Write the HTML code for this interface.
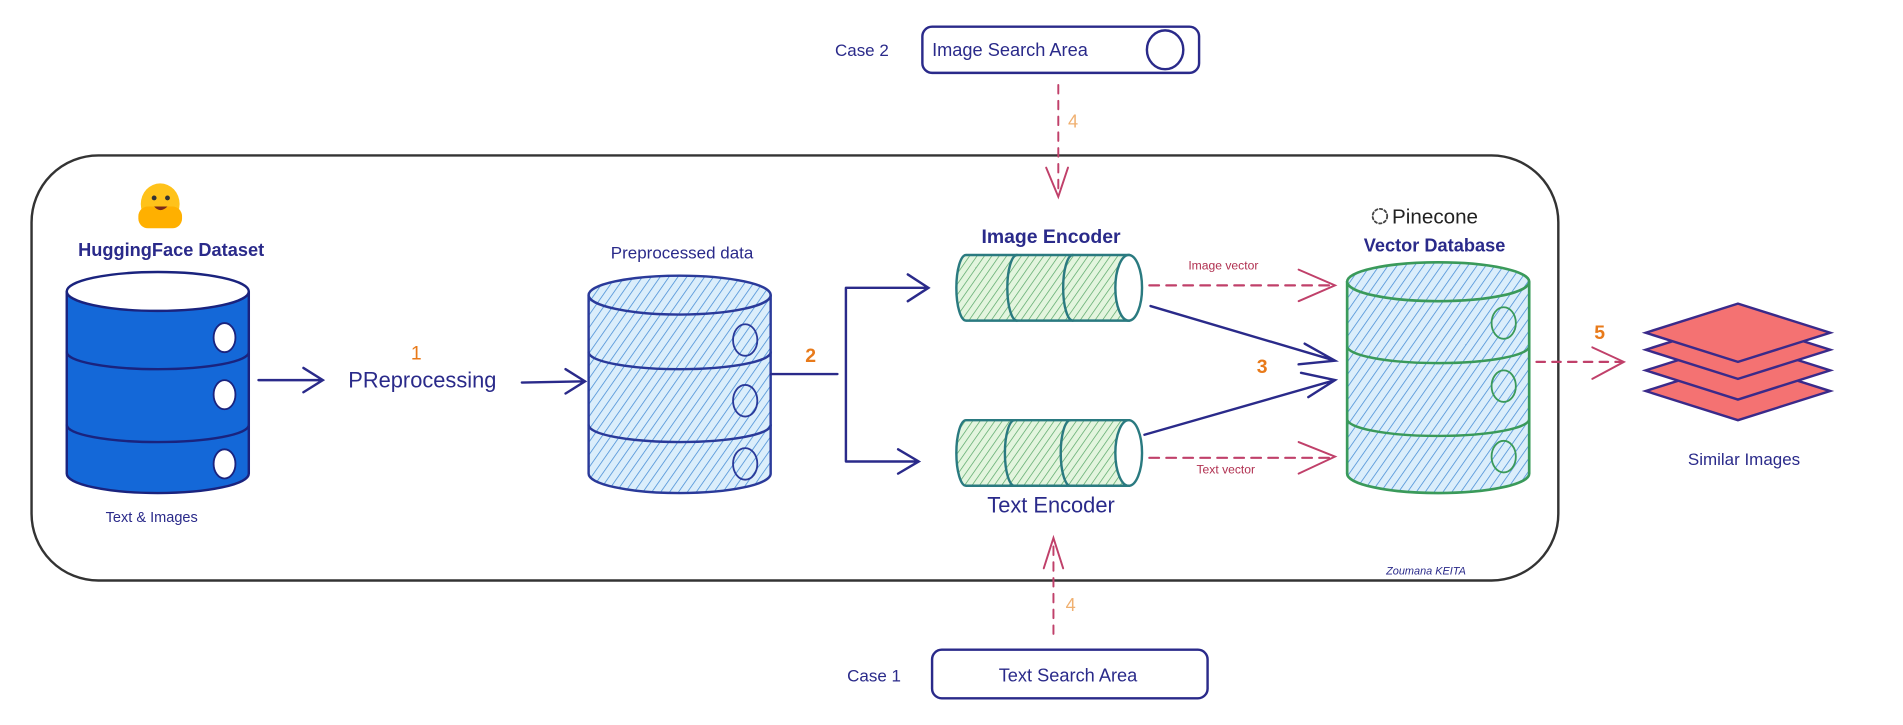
<!DOCTYPE html>
<html><head><meta charset="utf-8"><style>
html,body{margin:0;padding:0;background:#fff;width:1903px;height:725px;overflow:hidden}
svg{display:block}
text{font-family:"Liberation Sans",sans-serif}
</style></head><body>
<svg width="1903" height="725" viewBox="0 0 1568 597" preserveAspectRatio="none" xmlns="http://www.w3.org/2000/svg">
<defs>
<pattern id="hb" width="6" height="6" patternUnits="userSpaceOnUse" patternTransform="rotate(35)">
<rect width="6" height="6" fill="#dbeefb"/><line x1="0" y1="0" x2="0" y2="6" stroke="#4a8fd6" stroke-width="1.3"/></pattern>
<pattern id="hg" width="5" height="5" patternUnits="userSpaceOnUse" patternTransform="rotate(35)">
<rect width="5" height="5" fill="#e3f5de"/><line x1="0" y1="0" x2="0" y2="5" stroke="#5aa86a" stroke-width="1.2"/></pattern>
</defs>
<g fill="none" stroke-linecap="round">
<rect x="26" y="128" width="1258" height="350" rx="55" stroke="#333" stroke-width="2"/>
<rect x="760" y="22" width="228" height="38" rx="8" stroke="#2a2a8a" stroke-width="2"/>
<ellipse cx="960" cy="41" rx="15" ry="16" stroke="#2a2a8a" stroke-width="2"/>
<line x1="872" y1="70" x2="872" y2="160" stroke="#c0406a" stroke-width="1.6" stroke-dasharray="7 6"/>
<path d="M862 138 L872 162 L880 138" stroke="#c0406a" stroke-width="1.6"/>
<rect x="768" y="535" width="227" height="40" rx="8" stroke="#2a2a8a" stroke-width="2"/>
<line x1="868" y1="522" x2="868" y2="445" stroke="#c0406a" stroke-width="1.6" stroke-dasharray="7 6"/>
<path d="M860 468 L868 443 L876 468" stroke="#c0406a" stroke-width="1.6"/>
<path d="M55 240 L55 390 A75 16 0 0 0 205 390 L205 240" fill="#1468d8" stroke="#1a237e" stroke-width="2"/>
<ellipse cx="130" cy="240" rx="75" ry="16" fill="#fff" stroke="#1a237e" stroke-width="2"/>
<path d="M55 290 A75 14 0 0 0 205 290 M55 350 A75 14 0 0 0 205 350" stroke="#1a237e" stroke-width="2"/>
<ellipse cx="185" cy="278" rx="9" ry="12" fill="#fff" stroke="#1a237e" stroke-width="1.5"/>
<ellipse cx="185" cy="325" rx="9" ry="12" fill="#fff" stroke="#1a237e" stroke-width="1.5"/>
<ellipse cx="185" cy="382" rx="9" ry="12" fill="#fff" stroke="#1a237e" stroke-width="1.5"/>
<path d="M213 313 L266 313 M250 303 L266 313 L250 323" stroke="#2a2a8a" stroke-width="2"/>
<path d="M430 315 L482 314 M466 304 L482 314 L466 324" stroke="#2a2a8a" stroke-width="2"/>
<path d="M485 243 L485 390 A75 16 0 0 0 635 390 L635 243" fill="url(#hb)" stroke="#2a3a9a" stroke-width="2"/>
<ellipse cx="560" cy="243" rx="75" ry="16" fill="url(#hb)" stroke="#2a3a9a" stroke-width="2"/>
<path d="M485 290 A75 14 0 0 0 635 290 M485 350 A75 14 0 0 0 635 350" stroke="#2a3a9a" stroke-width="2"/>
<ellipse cx="614" cy="280" rx="10" ry="13" stroke="#2a3a9a" stroke-width="1.5"/>
<ellipse cx="614" cy="330" rx="10" ry="13" stroke="#2a3a9a" stroke-width="1.5"/>
<ellipse cx="614" cy="382" rx="10" ry="13" stroke="#2a3a9a" stroke-width="1.5"/>
<path d="M635 308 L690 308 M697 237 L697 380 M697 237 L765 237 M748 226 L765 237 L748 248 M697 380 L757 380 M740 370 L757 380 L740 390" stroke="#2a2a8a" stroke-width="2"/>
<path d="M796 210 L930 210 L930 264 L796 264 A8 27 0 0 1 796 210 Z" fill="url(#hg)" stroke="#2a7a80" stroke-width="2"/>
<path d="M838 210 A8 27 0 0 0 838 264 M884 210 A8 27 0 0 0 884 264" stroke="#2a7a80" stroke-width="2"/>
<ellipse cx="930" cy="237" rx="11" ry="27" fill="#fff" stroke="#2a7a80" stroke-width="2"/>
<path d="M796 346 L930 346 L930 400 L796 400 A8 27 0 0 1 796 346 Z" fill="url(#hg)" stroke="#2a7a80" stroke-width="2"/>
<path d="M836 346 A8 27 0 0 0 836 400 M882 346 A8 27 0 0 0 882 400" stroke="#2a7a80" stroke-width="2"/>
<ellipse cx="930" cy="373" rx="11" ry="27" fill="#fff" stroke="#2a7a80" stroke-width="2"/>
<path d="M947 235 L1098 235" stroke="#c0406a" stroke-width="1.8" stroke-dasharray="8 6"/>
<path d="M1070 222 L1100 235 L1070 248" stroke="#c0406a" stroke-width="1.6"/>
<path d="M947 377 L1098 377" stroke="#c0406a" stroke-width="1.8" stroke-dasharray="8 6"/>
<path d="M1070 364 L1100 376 L1070 390" stroke="#c0406a" stroke-width="1.6"/>
<path d="M948 252 L1100 297 M1075 283 L1100 297 L1070 300" stroke="#2a2a8a" stroke-width="2"/>
<path d="M943 358 L1100 313 M1072 307 L1100 313 L1078 327" stroke="#2a2a8a" stroke-width="2"/>
<path d="M1110 232 L1110 390 A75 16 0 0 0 1260 390 L1260 232" fill="url(#hb)" stroke="#3a9a5a" stroke-width="2.2"/>
<ellipse cx="1185" cy="232" rx="75" ry="16" fill="url(#hb)" stroke="#3a9a5a" stroke-width="2.2"/>
<path d="M1110 285 A75 14 0 0 0 1260 285 M1110 345 A75 14 0 0 0 1260 345" stroke="#3a9a5a" stroke-width="2"/>
<ellipse cx="1239" cy="266" rx="10" ry="13" stroke="#3a9a5a" stroke-width="1.5"/>
<ellipse cx="1239" cy="318" rx="10" ry="13" stroke="#3a9a5a" stroke-width="1.5"/>
<ellipse cx="1239" cy="376" rx="10" ry="13" stroke="#3a9a5a" stroke-width="1.5"/>
<circle cx="1137" cy="178" r="6" stroke="#444" stroke-width="1.5" stroke-dasharray="2 2"/>
<path d="M1266 298 L1336 298" stroke="#c0406a" stroke-width="1.8" stroke-dasharray="7 6"/>
<path d="M1312 286 L1338 298 L1312 312" stroke="#c0406a" stroke-width="1.6"/>
<g fill="#f47272" stroke="#3a2a8a" stroke-width="2">
<path d="M1356 322 L1432 298 L1508 322 L1432 346 Z"/>
<path d="M1356 305 L1432 281 L1508 305 L1432 329 Z"/>
<path d="M1356 288 L1432 264 L1508 288 L1432 312 Z"/>
<path d="M1356 274 L1432 250 L1508 274 L1432 298 Z"/>
</g>
</g>
<ellipse cx="132" cy="168" rx="16" ry="17" fill="#ffc21a"/>
<rect x="114" y="170" width="36" height="18" rx="8" fill="#ffb000"/>
<circle cx="127" cy="163" r="2" fill="#333"/><circle cx="138" cy="163" r="2" fill="#333"/>
<path d="M127 170 Q132 176 138 170" fill="#7a2a1a"/>
<g fill="#2a2a8a">
<text x="141" y="211" font-size="15" text-anchor="middle" font-weight="bold">HuggingFace Dataset</text>
<text x="125" y="430" font-size="12" text-anchor="middle">Text &amp; Images</text>
<text x="348" y="319" font-size="18" text-anchor="middle">PReprocessing</text>
<text x="562" y="213" font-size="14" text-anchor="middle">Preprocessed data</text>
<text x="866" y="200" font-size="16" text-anchor="middle" font-weight="bold">Image Encoder</text>
<text x="866" y="422" font-size="18" text-anchor="middle">Text Encoder</text>
<text x="1182" y="207" font-size="15" text-anchor="middle" font-weight="bold">Vector Database</text>
<text x="1437" y="383" font-size="14" text-anchor="middle">Similar Images</text>
<text x="1175" y="473" font-size="9" text-anchor="middle" font-style="italic">Zoumana KEITA</text>
<text x="688" y="46" font-size="14">Case 2</text>
<text x="768" y="46" font-size="15">Image Search Area</text>
<text x="698" y="561" font-size="14">Case 1</text>
<text x="880" y="561" font-size="15" text-anchor="middle">Text Search Area</text>
</g>
<text x="1147" y="184" font-size="17" fill="#222">Pinecone</text>
<g fill="#e87a1a" font-size="16">
<text x="343" y="296" text-anchor="middle">1</text>
<text x="668" y="298" text-anchor="middle" font-weight="bold">2</text>
<text x="1040" y="307" text-anchor="middle" font-weight="bold">3</text>
<text x="1318" y="279" text-anchor="middle" font-weight="bold">5</text>
</g>
<g fill="#f0b070" font-size="15"><text x="880" y="105">4</text><text x="878" y="503">4</text></g>
<g fill="#b03050" font-size="10">
<text x="1008" y="222" text-anchor="middle">Image vector</text>
<text x="1010" y="390" text-anchor="middle">Text vector</text>
</g>
</svg>
</body></html>
